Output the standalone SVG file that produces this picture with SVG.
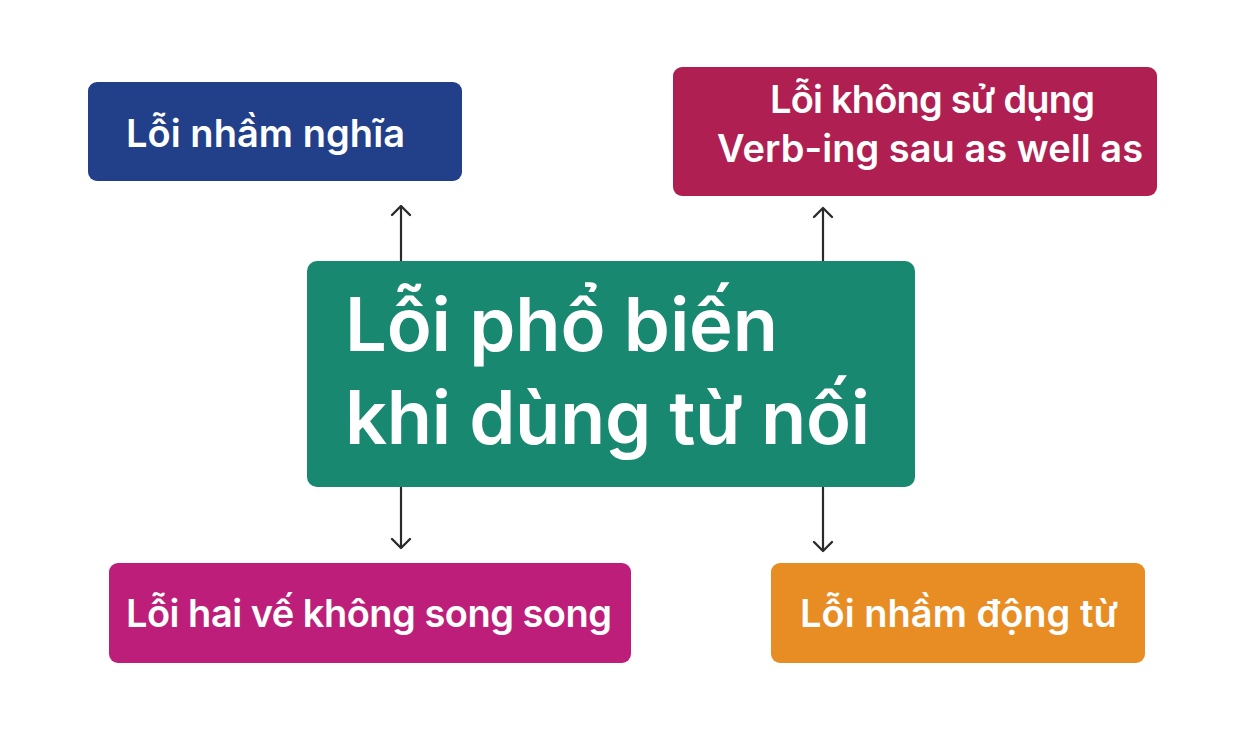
<svg xmlns="http://www.w3.org/2000/svg" width="1244" height="731" viewBox="0 0 1244 731">
  <style>
    .box-text { font-family: "Inter", "Liberation Sans", sans-serif; font-weight: 600; fill: #ffffff; }
    .small { font-size: 38px; }
    .big { font-size: 74px; }
    .conn { stroke: #2b2b2b; stroke-width: 2.2; fill: none; }
  </style>
  <defs>
    <marker id="ah" viewBox="-12 -12 24 24" refX="0" refY="0" markerWidth="24" markerHeight="24" markerUnits="userSpaceOnUse" orient="auto">
      <path d="M-9,-9 L0,0 L-9,9" fill="none" stroke="#2b2b2b" stroke-width="2.4" stroke-linecap="round" stroke-linejoin="round"/>
    </marker>
  </defs>
  <rect x="0" y="0" width="1244" height="731" fill="#ffffff"/>

  <g id="connectors">
    <line class="conn" x1="401" y1="261" x2="401" y2="206" marker-end="url(#ah)"/>
    <line class="conn" x1="401" y1="487" x2="401" y2="548" marker-end="url(#ah)"/>
    <line class="conn" x1="823" y1="261" x2="823" y2="208" marker-end="url(#ah)"/>
    <line class="conn" x1="823" y1="487" x2="823" y2="551" marker-end="url(#ah)"/>
  </g>

  <g id="node-center">
    <rect x="307" y="261" width="608" height="226" rx="10" fill="#198870"/>
    <text class="box-text big" x="345" y="351" textLength="433">Lỗi phổ biến</text>
    <text class="box-text big" x="345" y="444" textLength="525">khi dùng từ nối</text>
  </g>

  <g id="node-nham-nghia">
    <rect x="88" y="82" width="374" height="99" rx="9" fill="#22408a"/>
    <text class="box-text small" x="126" y="147" textLength="279">Lỗi nhầm nghĩa</text>
  </g>

  <g id="node-verb-ing">
    <rect x="673" y="67" width="484" height="129" rx="9" fill="#b01f52"/>
    <text class="box-text small" x="770" y="113" textLength="325">Lỗi không sử dụng</text>
    <text class="box-text small" x="717" y="162" textLength="426">Verb-ing sau as well as</text>
  </g>

  <g id="node-song-song">
    <rect x="109" y="563" width="522" height="100" rx="9" fill="#bd1e79"/>
    <text class="box-text small" x="126" y="627" textLength="486">Lỗi hai vế không song song</text>
  </g>

  <g id="node-dong-tu">
    <rect x="771" y="563" width="374" height="100" rx="9" fill="#e88d24"/>
    <text class="box-text small" x="800" y="627" textLength="318">Lỗi nhầm động từ</text>
  </g>
</svg>
